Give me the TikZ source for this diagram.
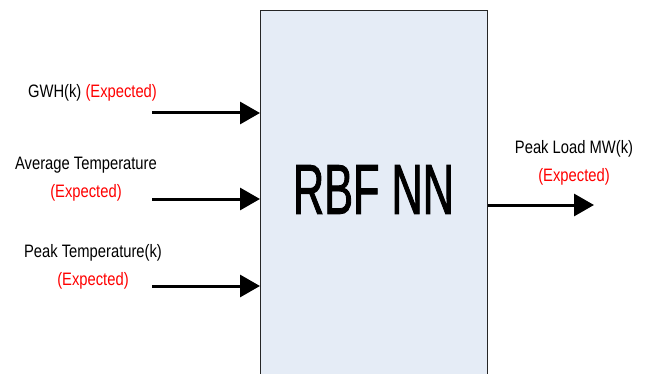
\documentclass[tikz,border=0pt]{standalone}
\usepackage{fontspec}
\setmainfont[FakeStretch=0.82]{Liberation Sans}
\newfontfamily\bigfont[FakeStretch=0.61,FakeBold=1.2]{Liberation Sans}
\usetikzlibrary{arrows.meta}
\definecolor{boxfill}{HTML}{E5ECF6}
\definecolor{expred}{HTML}{FF0000}
\tikzset{
  flow/.style={line width=3pt, -{Triangle[length=20pt,width=22pt]}},
  lbl/.style={inner sep=0pt, align=center, font=\fontsize{18}{28}\selectfont},
  netbox/.style={draw=black!85, line width=1.2pt, fill=boxfill, anchor=north west,
    minimum width=227pt, minimum height=420pt, inner sep=0pt}
}
\newcommand{\expd}{\textcolor{expred}{(Expected)}}
\begin{document}
\begin{tikzpicture}[x=1pt,y=1pt]
  \useasboundingbox (0,0) rectangle (650,-374);
  \clip (0,0) rectangle (650,-374);
  % network block (runs past the lower edge)
  \node[netbox] (nn) at (260,-10) {};
  \node[font=\bigfont\fontsize{71}{71}\selectfont, inner sep=0pt] (title) at (373.5,-189.5) {RBF NN};
  % input labels
  \node[lbl, anchor=base] (l1) at (92.5,-98) {GWH(k) \expd};
  \node[lbl, anchor=north] (l2) at (86,-157) {Average Temperature\\\expd};
  \node[lbl, anchor=north] (l3) at (93,-244) {Peak Temperature(k)\\\expd};
  % output label
  \node[lbl, anchor=north] (l4) at (574,-140) {Peak Load MW(k)\\\expd};
  % input arrow starts and output arrow end
  \coordinate (i1) at (152,-113);
  \coordinate (i2) at (152,-199);
  \coordinate (i3) at (152,-286);
  \coordinate (o1) at (594,-205);
  \draw[flow] (i1) -- (i1 -| nn.west);
  \draw[flow] (i2) -- (i2 -| nn.west);
  \draw[flow] (i3) -- (i3 -| nn.west);
  \draw[flow] (o1 -| nn.east) -- (o1);
\end{tikzpicture}
\end{document}
